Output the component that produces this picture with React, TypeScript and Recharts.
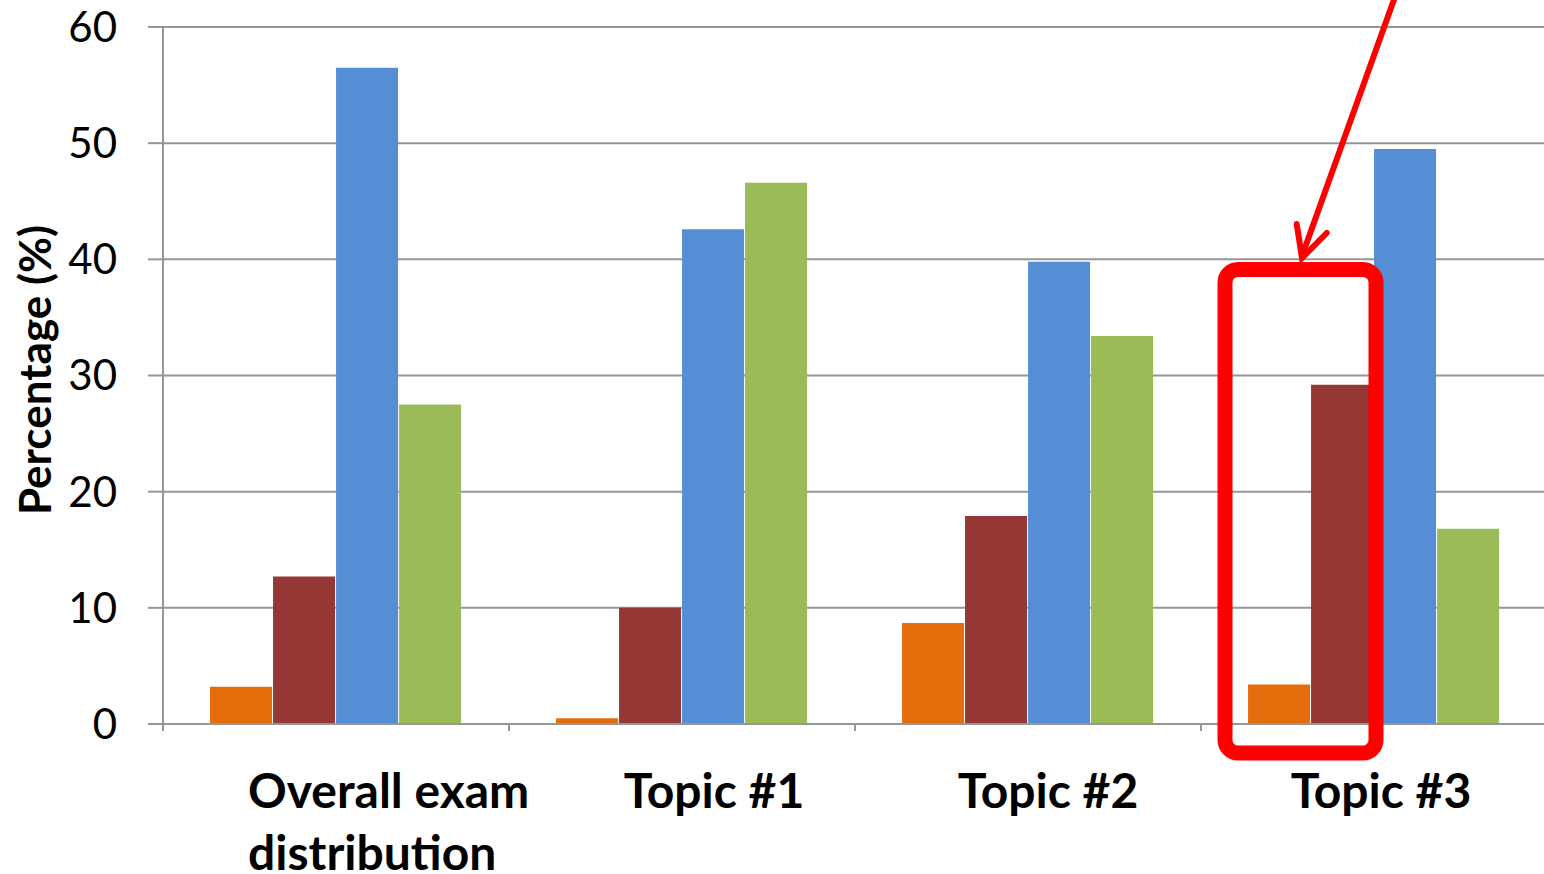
import { BarChart, Bar, XAxis, YAxis, CartesianGrid } from 'recharts';

// valores (porcentaje por categoria)
const categories = ['Overall exam distribution', 'Topic #1', 'Topic #2', 'Topic #3'];
const orangeVals = [3.2, 0.5, 8.7, 3.4];
const redVals = [12.7, 10.0, 17.9, 29.2];
const blueVals = [56.5, 42.6, 39.8, 49.5];
const greenVals = [27.5, 46.6, 33.4, 16.8];
const yTicks = [0, 10, 20, 30, 40, 50, 60];

const data = categories.map((name, i) => ({
  name,
  orange: orangeVals[i],
  red: redVals[i],
  blue: blueVals[i],
  green: greenVals[i],
}));

const W = 1547;
const H = 874;
const LEFT = 163;
const BAND = (W - LEFT) / categories.length;
const FONT = 'Lato, "Open Sans", sans-serif';
const GRID = '#969696';

function CatTick(props: any) {
  const { x, y, payload, index } = props;
  const left = x - BAND / 2;
  const tick = (
    <line x1={left} y1={y - 8} x2={left} y2={y - 1} stroke={GRID} strokeWidth={2} />
  );
  if (index === 0) {
    return (
      <g>
        {tick}
        <text x={x - 88} y={y + 76} textAnchor="start" fontFamily={FONT} fontWeight={700} fontSize={48} fill="#000">
          <tspan x={x - 88}>Overall exam</tspan>
          <tspan x={x - 88} dy={62}>distribution</tspan>
        </text>
      </g>
    );
  }
  const shift = [0, 32, 20, 7][index] || 0;
  return (
    <g>
      {tick}
      <text x={x + shift} y={y + 76} textAnchor="middle" fontFamily={FONT} fontWeight={700} fontSize={48} fill="#000">
        {payload.value}
      </text>
    </g>
  );
}

function YLabel() {
  return (
    <text
      x={51}
      y={370}
      transform="rotate(-90 51 370)"
      textAnchor="middle"
      fontFamily={FONT}
      fontWeight={700}
      fontSize={44}
      fill="#000"
    >
      Percentage (%)
    </text>
  );
}

export default function App() {
  return (
    <div style={{ position: 'absolute', left: 0, top: 0, width: 1544, height: H, overflow: 'hidden', background: '#fff' }}>
      <BarChart
        width={W}
        height={H}
        data={data}
        margin={{ top: 27, right: 0, bottom: 0, left: 0 }}
        barCategoryGap="13.6%"
        barGap={1}
      >
        <CartesianGrid horizontal vertical={false} stroke={GRID} strokeWidth={2} />
        <XAxis
          dataKey="name"
          height={150}
          interval={0}
          tickLine={false}
          axisLine={{ stroke: GRID, strokeWidth: 2 }}
          tick={<CatTick />}
        />
        <YAxis
          width={LEFT}
          domain={[0, 60]}
          ticks={yTicks}
          tickSize={15}
          tickMargin={31}
          tickLine={{ stroke: GRID, strokeWidth: 2 }}
          axisLine={{ stroke: GRID, strokeWidth: 2 }}
          tick={{ fontFamily: FONT, fontSize: 42, fill: '#000' }}
          label={<YLabel />}
        />
        <Bar dataKey="orange" fill="#E46C0A" isAnimationActive={false} />
        <Bar dataKey="red" fill="#953735" isAnimationActive={false} />
        <Bar dataKey="blue" fill="#558ED5" isAnimationActive={false} />
        <Bar dataKey="green" fill="#9BBB59" isAnimationActive={false} />
      </BarChart>
      <svg
        width={1544}
        height={H}
        style={{ position: 'absolute', left: 0, top: 0, pointerEvents: 'none' }}
      >
        <rect x={1225} y={269.5} width={151} height={483.5} rx={13} fill="none" stroke="#FF0000" strokeWidth={15} />
        <line x1={1396} y1={-6} x2={1302} y2={256} stroke="#FF0000" strokeWidth={6} />
        <polyline points="1296.7,224 1302,258 1326.7,233" fill="none" stroke="#FF0000" strokeWidth={6} strokeLinecap="round" strokeLinejoin="miter" />
      </svg>
    </div>
  );
}
